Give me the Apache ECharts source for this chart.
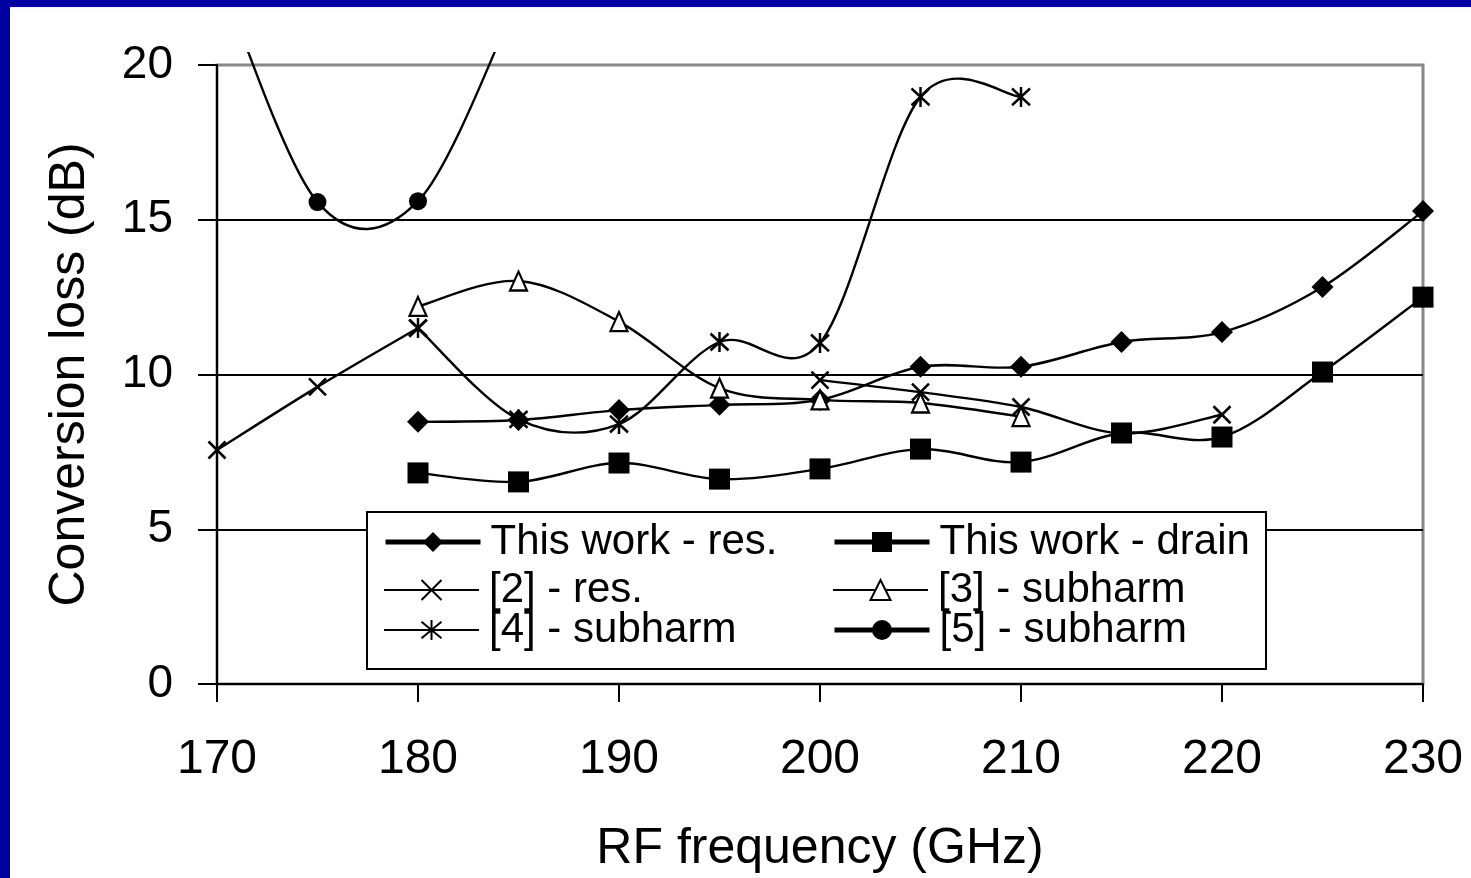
<!DOCTYPE html>
<html>
<head>
<meta charset="utf-8">
<title>Conversion loss vs RF frequency</title>
<script src="https://cdn.jsdelivr.net/npm/echarts@6/dist/echarts.min.js"></script>
<style>
  html, body { margin: 0; padding: 0; width: 100%; height: 100%; background: #0000a0; overflow: hidden; }
  #chart { position: fixed; left: 10px; top: 7px; width: 1461px; height: 871px; background: #ffffff; }
</style>
</head>
<body>
<div id="chart"></div>
<script>
// RF frequency (GHz) sample points
const freq = [170, 175, 180, 185, 190, 195, 200, 205, 210, 215, 220, 225, 230];

// Conversion loss (dB) per design; null = no measurement at that frequency
const thisWorkRes   = [null, null, 8.47, 8.53, 8.85, 9.02, 9.18, 10.25, 10.25, 11.05, 11.37, 12.83, 15.28];
const thisWorkDrain = [null, null, 6.82, 6.53, 7.14, 6.62, 6.95, 7.59, 7.17, 8.11, 7.98, 10.08, 12.50];
const ref2Res       = [7.56, 9.60, 11.50, null, null, null, 9.82, 9.43, 8.95, 8.10, 8.70, null, null];
const ref3Subharm   = [null, null, 12.20, 13.02, 11.71, 9.56, 9.18, 9.08, 8.64, null, null, null, null];
const ref4Subharm   = [null, null, 11.50, 8.55, 8.40, 11.05, 11.02, 18.97, 18.97, null, null, null, null];
const ref5Subharm   = [23.1, 15.57, 15.60, 22.2, null, null, null, null, null, null, null, null, null];

const seriesNames = [
  'This work - res.',
  'This work - drain',
  '[2] - res.',
  '[3] - subharm',
  '[4] - subharm',
  '[5] - subharm'
];
const seriesValues = [thisWorkRes, thisWorkDrain, ref2Res, ref3Subharm, ref4Subharm, ref5Subharm];

// Y-axis tick values
const yTicks = [0, 5, 10, 15, 20];

const FONT = "'Liberation Sans', Arial, sans-serif";
const SYM_X = 'path://M0,0L10,10M10,0L0,10';
const SYM_STAR = 'path://M0,0L10,10M10,0L0,10M5,-1L5,11';
const LINE_W = 2.4;

function pairs(values) {
  return freq.map((f, i) => [f, values[i]]);
}

// Smooth curve through the measured points (Catmull-Rom as cubic Beziers),
// broken wherever a value is missing.
function smoothPath(values, api) {
  const runs = [];
  let run = [];
  values.forEach((v, i) => {
    if (v == null) {
      if (run.length) runs.push(run);
      run = [];
    } else {
      run.push(api.coord([freq[i], v]));
    }
  });
  if (run.length) runs.push(run);

  let d = '';
  runs.forEach(pts => {
    d += 'M' + pts[0][0] + ',' + pts[0][1];
    for (let i = 0; i < pts.length - 1; i++) {
      const p0 = pts[i - 1] || pts[i];
      const p1 = pts[i];
      const p2 = pts[i + 1];
      const p3 = pts[i + 2] || pts[i + 1];
      const c1x = p1[0] + (p2[0] - p0[0]) / 6;
      const c1y = p1[1] + (p2[1] - p0[1]) / 6;
      const c2x = p2[0] - (p3[0] - p1[0]) / 6;
      const c2y = p2[1] - (p3[1] - p1[1]) / 6;
      d += 'C' + c1x + ',' + c1y + ' ' + c2x + ',' + c2y + ' ' + p2[0] + ',' + p2[1];
    }
  });
  return d;
}

function curveSeries(idx) {
  const values = seriesValues[idx];
  return {
    name: seriesNames[idx] + ' curve',
    type: 'custom',
    coordinateSystem: 'cartesian2d',
    data: [[freq[0], 0]],
    clip: false,
    silent: true,
    animation: false,
    z: 2,
    renderItem: function (params, api) {
      return {
        type: 'path',
        shape: { pathData: smoothPath(values, api) },
        style: { stroke: '#000', fill: 'none', lineWidth: LINE_W, lineJoin: 'round' }
      };
    }
  };
}

function markerSeries(idx, symbol, size, itemStyle) {
  return {
    name: seriesNames[idx],
    type: 'line',
    data: pairs(seriesValues[idx]),
    connectNulls: false,
    symbol: symbol,
    symbolSize: size,
    showAllSymbol: true,
    clip: false,
    z: 3,
    lineStyle: { color: '#000', width: 0, opacity: 0 },
    itemStyle: itemStyle,
    emphasis: { disabled: true },
    animation: false
  };
}

const strokeOnly = { color: 'none', borderColor: '#000', borderWidth: 2.6 };
const filled = { color: '#000', borderWidth: 0 };
const hollowTri = { color: '#fff', borderColor: '#000', borderWidth: 2.2 };

const markerDefs = [
  ['diamond', 22, filled],
  ['rect', 21, filled],
  [SYM_X, 17, strokeOnly],
  ['triangle', [17, 19], hollowTri],
  [SYM_STAR, [18, 20], strokeOnly],
  ['circle', 18, filled]
];

const series = [];
markerDefs.forEach((m, i) => {
  series.push(curveSeries(i));
  series.push(markerSeries(i, m[0], m[1], m[2]));
});

// legend entries laid out in two columns of three rows
const legendCols = [373, 822];
const legendRows = [514, 562, 602];
const legendLayout = [
  { col: 0, row: 0, lineWidth: 5, item: { borderWidth: 0 } },
  { col: 1, row: 0, lineWidth: 5, item: { borderWidth: 0 } },
  { col: 0, row: 1, lineWidth: 2, item: { color: 'none', borderColor: '#000', borderWidth: 2 } },
  { col: 1, row: 1, lineWidth: 2, item: { color: '#fff', borderColor: '#000', borderWidth: 2 } },
  { col: 0, row: 2, lineWidth: 2, item: { color: 'none', borderColor: '#000', borderWidth: 2 } },
  { col: 1, row: 2, lineWidth: 5, item: { borderWidth: 0 } }
];

const legends = legendLayout.map((l, i) => ({
  data: [seriesNames[i]],
  left: legendCols[l.col],
  top: legendRows[l.row],
  orient: 'horizontal',
  padding: 0,
  itemWidth: 95,
  itemHeight: 25,
  selectedMode: false,
  z: 10,
  lineStyle: { width: l.lineWidth, color: '#000', opacity: 1 },
  itemStyle: l.item,
  textStyle: { fontFamily: FONT, fontSize: 42, color: '#000', padding: [0, 0, 0, 5] }
}));

const chart = echarts.init(document.getElementById('chart'), null, { renderer: 'canvas' });

chart.setOption({
  backgroundColor: '#ffffff',
  animation: false,
  aria: { enabled: false },
  tooltip: { show: false },
  grid: {
    left: 207, top: 58, right: 48, bottom: 194,
    outerBoundsMode: 'none',
    containLabel: false,
    show: true,
    backgroundColor: '#ffffff',
    borderColor: '#888888',
    borderWidth: 3
  },
  xAxis: {
    type: 'value',
    min: 170, max: 230, interval: 10,
    name: 'RF frequency (GHz)',
    nameLocation: 'middle',
    nameGap: 140,
    nameTextStyle: { fontFamily: FONT, fontSize: 50, color: '#000' },
    axisLine: { show: true, lineStyle: { color: '#000', width: 2 } },
    axisTick: { show: true, inside: false, length: 18, lineStyle: { color: '#000', width: 2 } },
    axisLabel: { fontFamily: FONT, fontSize: 48, color: '#000', margin: 52 },
    splitLine: { show: false }
  },
  yAxis: {
    type: 'value',
    min: yTicks[0], max: yTicks[yTicks.length - 1], interval: 5,
    name: 'Conversion loss (dB)',
    nameLocation: 'middle',
    nameGap: 122,
    nameTextStyle: { fontFamily: FONT, fontSize: 50, color: '#000' },
    axisLine: { show: true, lineStyle: { color: '#000', width: 2 } },
    axisTick: { show: true, inside: false, length: 19, lineStyle: { color: '#000', width: 2 } },
    axisLabel: { fontFamily: FONT, fontSize: 46, color: '#000', margin: 44 },
    splitLine: { show: true, showMinLine: false, showMaxLine: false, lineStyle: { color: '#000', width: 2 } }
  },
  legend: legends,
  graphic: {
    elements: [
      // white margin above the plot hides the part of the [5] curve beyond the chart area
      { type: 'rect', left: 209, top: 0, z: 50, silent: true,
        shape: { width: 400, height: 45 }, style: { fill: '#ffffff' } },
      // legend frame
      { type: 'rect', left: 356, top: 504, z: 6, silent: true,
        shape: { width: 899, height: 157 },
        style: { fill: '#ffffff', stroke: '#000', lineWidth: 2 } }
    ]
  },
  series: series
});
</script>
</body>
</html>
